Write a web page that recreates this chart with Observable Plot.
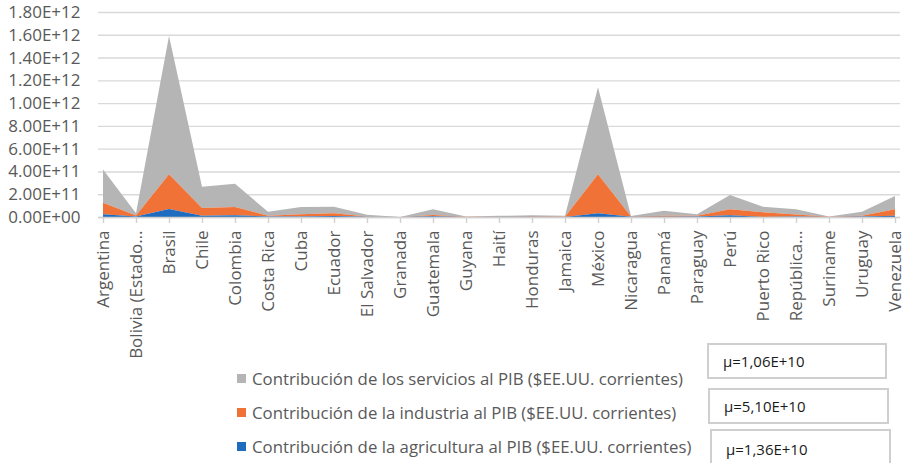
<!DOCTYPE html>
<html>
<head>
<meta charset="utf-8">
<script src="https://cdn.jsdelivr.net/npm/d3@7"></script>
<script src="https://cdn.jsdelivr.net/npm/@observablehq/plot@0.6"></script>
<style>
  html, body { margin: 0; padding: 0; background: #fff; }
  #wrap { position: relative; width: 908px; height: 463px; overflow: hidden; font-family: "Open Sans", sans-serif; }
  #chart { position: absolute; left: 0; top: 0; width: 908px; height: 372px; }
  .leg { position: absolute; left: 237px; height: 22px; display: flex; align-items: center; font-size: 16.8px; color: #595959; white-space: nowrap; }
  .leg .sw { width: 9px; height: 9px; margin-right: 6px; flex: none; }
  .box { position: absolute; border: 2px solid #cfcfcf; background: #fff; box-sizing: border-box; font-size: 15px; color: #1a1a1a; display: flex; align-items: center; padding-left: 14px; }
</style>
</head>
<body>
<div id="wrap">
  <div id="chart"></div>
</div>
<script>
// ---- data ----
const countries = ["Argentina","Bolivia (Estado Plurinacional de)","Brasil","Chile","Colombia","Costa Rica","Cuba","Ecuador","El Salvador","Granada","Guatemala","Guyana","Haití","Honduras","Jamaica","México","Nicaragua","Panamá","Paraguay","Perú","Puerto Rico","República Dominicana","Suriname","Uruguay","Venezuela"];
const tickLabels = ["Argentina","Bolivia (Estado…","Brasil","Chile","Colombia","Costa Rica","Cuba","Ecuador","El Salvador","Granada","Guatemala","Guyana","Haití","Honduras","Jamaica","México","Nicaragua","Panamá","Paraguay","Perú","Puerto Rico","República…","Suriname","Uruguay","Venezuela"];

const agriculture = [2.4e10, 4e9, 7e10, 1e10, 1.5e10, 4e9, 4e9, 8e9, 1.5e9, 2e8, 7e9, 1e9, 2e9, 3e9, 7e8, 3.2e10, 1.5e9, 2e9, 4e9, 1.5e10, 8e8, 5e9, 5e8, 5e9, 1e10];
const industry    = [1.01e11, 9e9, 3.05e11, 6.9e10, 7.3e10, 8e9, 2.1e10, 2.4e10, 3.5e9, 1e8, 1.1e10, 1e9, 2e9, 4e9, 2.5e9, 3.43e11, 2.5e9, 8e9, 7e9, 5.2e10, 4.1e10, 1.7e10, 1.5e9, 7e9, 5.7e10];
const services    = [2.93e11, 1.9e10, 1.215e12, 1.87e11, 2.04e11, 3.4e10, 6.3e10, 5.8e10, 1.5e10, 7e8, 4.9e10, 2e9, 6e9, 8e9, 7.8e9, 7.65e11, 5e9, 4.5e10, 1.3e10, 1.26e11, 4.9e10, 4.5e10, 2e9, 3.4e10, 1.17e11];

const seriesNames = [
  "Contribución de los servicios al PIB ($EE.UU. corrientes)",
  "Contribución de la industria al PIB ($EE.UU. corrientes)",
  "Contribución de la agricultura al PIB ($EE.UU. corrientes)"
];
const seriesColors = ["#b5b5b5", "#f07236", "#1f6bbf"];
const boxTexts = ["µ=1,06E+10", "µ=5,10E+10", "µ=1,36E+10"];
const yTicks = [0, 2e11, 4e11, 6e11, 8e11, 1e12, 1.2e12, 1.4e12, 1.6e12, 1.8e12];

// ---- build table ----
const seriesValues = [services, industry, agriculture];
const data = [];
seriesNames.forEach((s, si) => {
  countries.forEach((c, i) => data.push({country: c, series: s, value: seriesValues[si][i]}));
});
const stackOrder = [seriesNames[2], seriesNames[1], seriesNames[0]];

const fmt = d => {
  if (d === 0) return "0.00E+00";
  const e = Math.floor(Math.log10(d) + 1e-9);
  return (d / Math.pow(10, e)).toFixed(2) + "E+" + String(e).padStart(2, "0");
};

const chart = Plot.plot({
  width: 908,
  height: 372,
  marginTop: 12,
  marginLeft: 98,
  marginRight: 8,
  marginBottom: 155,
  style: {fontFamily: "'Open Sans', sans-serif", background: "transparent", overflow: "visible"},
  x: {type: "point", domain: countries, padding: 0, label: null},
  y: {domain: [0, 1.8e12], label: null},
  color: {domain: seriesNames, range: seriesColors},
  marks: [
    Plot.gridY(yTicks, {stroke: "#d9d9d9", strokeOpacity: 1, strokeWidth: 1.4}),
    Plot.areaY(data, Plot.stackY({x: "country", y: "value", fill: "series", order: stackOrder})),
    Plot.ruleY([0], {stroke: "#d0d0d0", strokeWidth: 1.5}),
    Plot.axisY(yTicks, {tickSize: 0, tickPadding: 18, tickFormat: fmt, fontSize: 17, fill: "#595959", label: null}),
    Plot.axisX({tickRotate: -90, tickSize: 6, tickPadding: 7, stroke: "#d0d0d0", strokeWidth: 1.4,
      tickFormat: d => tickLabels[countries.indexOf(d)], fontSize: 17, fill: "#595959", label: null})
  ]
});
document.getElementById("chart").appendChild(chart);

// ---- legend + boxes ----
const wrap = document.getElementById("wrap");
const legTops = [367, 401, 435];
seriesNames.forEach((s, i) => {
  const d = document.createElement("div");
  d.className = "leg";
  d.style.top = legTops[i] + "px";
  d.innerHTML = `<span class="sw" style="background:${seriesColors[i]}"></span><span>${s}</span>`;
  wrap.appendChild(d);
});
const boxes = [[707, 343, 180, 36], [708, 388, 181, 36], [710, 429, 181, 40]];
boxes.forEach(([l, t, w, h], i) => {
  const b = document.createElement("div");
  b.className = "box";
  Object.assign(b.style, {left: l + "px", top: t + "px", width: w + "px", height: h + "px"});
  b.textContent = boxTexts[i];
  wrap.appendChild(b);
});
</script>
</body>
</html>
